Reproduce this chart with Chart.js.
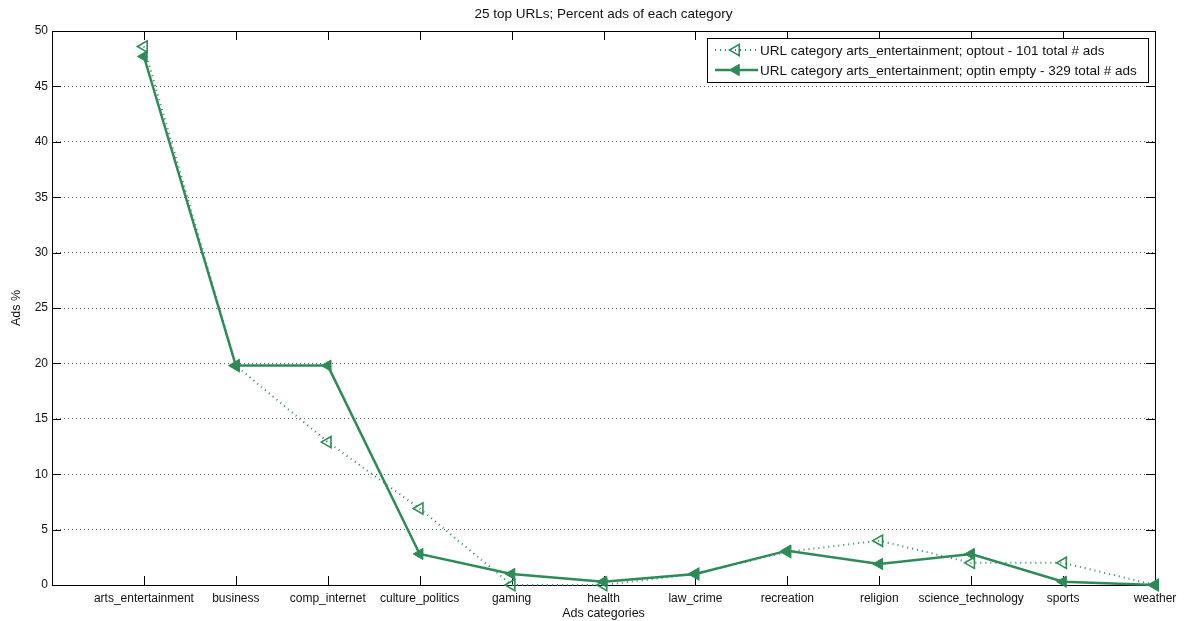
<!DOCTYPE html>
<html>
<head>
<meta charset="utf-8">
<script src="https://cdn.jsdelivr.net/npm/chart.js@4/dist/chart.umd.min.js"></script>
<style>
  html, body { margin: 0; padding: 0; background: #fff; }
  #wrap { width: 1184px; height: 621px; position: relative; }
</style>
</head>
<body>
<div id="wrap"><canvas id="c" width="1184" height="621"></canvas></div>
<script>
const categories = ['arts_entertainment', 'business', 'comp_internet', 'culture_politics', 'gaming', 'health', 'law_crime', 'recreation', 'religion', 'science_technology', 'sports', 'weather'];
const optoutValues = [48.6, 19.8, 12.9, 6.9, 0.0, 0.0, 1.0, 3.0, 4.0, 2.0, 2.0, 0.0];
const optinValues = [47.7, 19.8, 19.8, 2.8, 1.0, 0.3, 1.0, 3.1, 1.9, 2.8, 0.3, 0.0];
const yTicks = [0, 5, 10, 15, 20, 25, 30, 35, 40, 45, 50];
const seriesLabels = [
  'URL category arts_entertainment; optout - 101 total # ads',
  'URL category arts_entertainment; optin empty - 329 total # ads'
];
const chartTitle = '25 top URLs; Percent ads of each category';

const GREEN = 'rgb(46,139,87)';
const FONT = 'Liberation Sans, Arial, sans-serif';

const toPoints = vals => vals.map((v, i) => ({ x: i, y: v }));

const boxPlugin = {
  id: 'matlabBox',
  beforeDatasetsDraw(chart) {
    const { ctx, chartArea: a, scales: { x, y } } = chart;
    ctx.save();
    ctx.strokeStyle = '#000';
    ctx.lineWidth = 1;
    ctx.beginPath();
    ctx.rect(Math.round(a.left) + 0.5, Math.round(a.top) + 0.5, Math.round(a.right - a.left), Math.round(a.bottom - a.top));
    ctx.stroke();
    const tl = 9;
    ctx.beginPath();
    categories.forEach((c, i) => {
      const px = Math.round(x.getPixelForValue(i)) + 0.5;
      ctx.moveTo(px, a.bottom); ctx.lineTo(px, a.bottom - tl);
      ctx.moveTo(px, a.top); ctx.lineTo(px, a.top + tl);
    });
    yTicks.forEach(v => {
      const py = Math.round(y.getPixelForValue(v)) + 0.5;
      ctx.moveTo(a.left, py); ctx.lineTo(a.left + tl, py);
      ctx.moveTo(a.right, py); ctx.lineTo(a.right - tl, py);
    });
    ctx.stroke();
    // title centred over the plot area
    ctx.fillStyle = '#111';
    ctx.font = '13.5px ' + FONT;
    ctx.textAlign = 'center';
    ctx.textBaseline = 'middle';
    ctx.fillText(chartTitle, (a.left + a.right) / 2, 14);
    ctx.restore();
  },
  afterDraw(chart) {
    const { ctx } = chart;
    const bx = 707, by = 38, bw = 441, bh = 44;
    ctx.save();
    ctx.fillStyle = '#fff';
    ctx.fillRect(bx, by, bw, bh);
    ctx.strokeStyle = '#000';
    ctx.lineWidth = 1;
    ctx.strokeRect(bx + 0.5, by + 0.5, bw, bh);
    chart.data.datasets.forEach((ds, i) => {
      const ry = by + 12 + i * 20;
      ctx.save();
      ctx.strokeStyle = ds.borderColor;
      ctx.lineWidth = ds.borderWidth;
      ctx.setLineDash(ds.borderDash || []);
      ctx.beginPath();
      ctx.moveTo(715, ry); ctx.lineTo(758, ry);
      ctx.stroke();
      ctx.restore();
      ctx.save();
      ctx.fillStyle = ds.pointBackgroundColor;
      ctx.strokeStyle = ds.pointBorderColor;
      ctx.lineWidth = ds.pointBorderWidth;
      Chart.helpers.drawPoint(ctx, {
        pointStyle: 'triangle', radius: ds.pointRadius, rotation: ds.pointRotation,
        borderWidth: ds.pointBorderWidth
      }, 736, ry);
      ctx.restore();
      ctx.fillStyle = '#111';
      ctx.font = '13.5px ' + FONT;
      ctx.textBaseline = 'middle';
      ctx.textAlign = 'left';
      ctx.fillText(seriesLabels[i], 760, ry + 1);
    });
    ctx.restore();
  }
};

new Chart(document.getElementById('c'), {
  type: 'line',
  data: {
    datasets: [
      {
        label: seriesLabels[0],
        data: toPoints(optoutValues),
        borderColor: GREEN,
        borderWidth: 2,
        borderDash: [1, 4],
        pointStyle: 'triangle',
        pointRotation: -90,
        pointRadius: 6.5,
        pointBorderWidth: 1.6,
        pointBorderColor: GREEN,
        pointBackgroundColor: 'rgba(0,0,0,0)',
        tension: 0,
        clip: false,
        order: 1
      },
      {
        label: seriesLabels[1],
        data: toPoints(optinValues),
        borderColor: GREEN,
        borderWidth: 2.5,
        pointStyle: 'triangle',
        pointRotation: -90,
        pointRadius: 6.5,
        pointBorderWidth: 1,
        pointBorderColor: GREEN,
        pointBackgroundColor: GREEN,
        tension: 0,
        clip: false,
        order: 0
      }
    ]
  },
  options: {
    responsive: false,
    animation: false,
    devicePixelRatio: 1,
    layout: { padding: { left: 0, right: 29, top: 31, bottom: 0 } },
    plugins: {
      legend: { display: false },
      tooltip: { enabled: false },
      title: { display: false }
    },
    scales: {
      x: {
        type: 'linear',
        min: -1,
        max: 11,
        afterFit(scale) { scale.height = 36; },
        afterBuildTicks(scale) {
          scale.ticks = [-1, ...categories.map((c, i) => i)].map(v => ({ value: v }));
        },
        ticks: {
          autoSkip: false,
          maxRotation: 0,
          padding: 6,
          color: '#111',
          font: { family: FONT, size: 12 },
          callback: v => (categories[v] !== undefined ? categories[v] : '')
        },
        grid: { display: false, drawTicks: false },
        border: { display: false },
        title: {
          display: true,
          text: 'Ads categories',
          color: '#111',
          font: { family: FONT, size: 12.5 },
          padding: { top: 0, bottom: 0 }
        }
      },
      y: {
        min: 0,
        max: 50,
        afterFit(scale) { scale.width = 52; },
        afterBuildTicks(scale) {
          scale.ticks = yTicks.map(v => ({ value: v }));
        },
        ticks: {
          padding: 4,
          color: '#111',
          font: { family: FONT, size: 12 }
        },
        grid: {
          drawTicks: false,
          color: '#555',
          lineWidth: 1
        },
        border: { display: false, dash: [1, 3] },
        title: {
          display: true,
          text: 'Ads %',
          color: '#111',
          font: { family: FONT, size: 12.5 },
          padding: { top: 9, bottom: 0 }
        }
      }
    }
  },
  plugins: [boxPlugin]
});
</script>
</body>
</html>
